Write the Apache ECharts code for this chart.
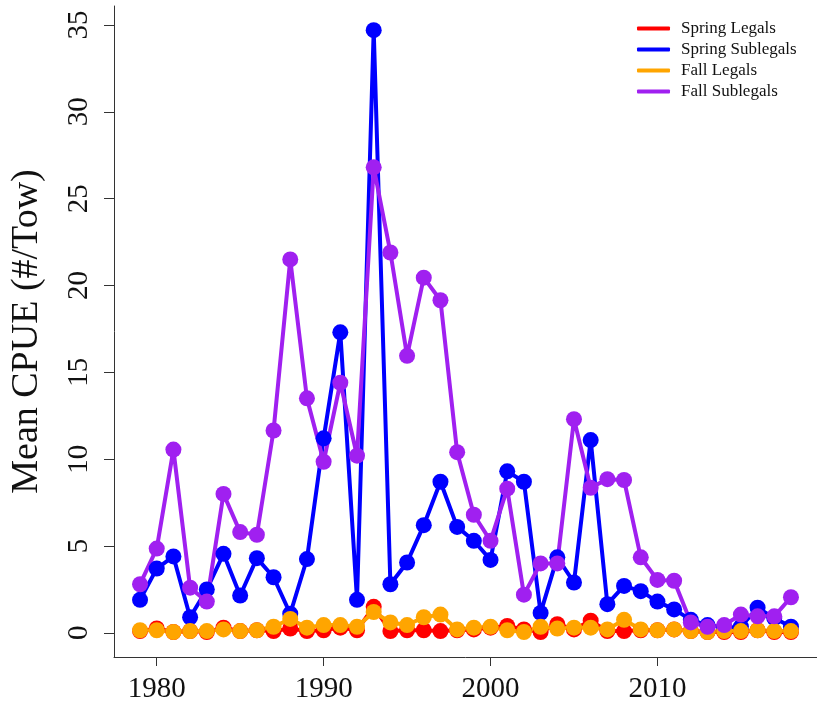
<!DOCTYPE html>
<html>
<head>
<meta charset="utf-8">
<script src="https://cdn.jsdelivr.net/npm/echarts@6/dist/echarts.min.js"></script>
<style>
  html, body { margin: 0; padding: 0; background: #ffffff; }
  #chart { width: 817px; height: 704px; }
</style>
</head>
<body>
<div id="chart"></div>
<script>
// Survey years
const years = [1979, 1980, 1981, 1982, 1983, 1984, 1985, 1986, 1987, 1988,
  1989, 1990, 1991, 1992, 1993, 1994, 1995, 1996, 1997, 1998,
  1999, 2000, 2001, 2002, 2003, 2004, 2005, 2006, 2007, 2008,
  2009, 2010, 2011, 2012, 2013, 2014, 2015, 2016, 2017, 2018];

// Mean CPUE (#/Tow) by season and size class
const springLegals = [0.1, 0.25, 0.05, 0.1, 0.05, 0.3, 0.1, 0.15, 0.1, 0.25,
  0.1, 0.15, 0.3, 0.15, 1.5, 0.1, 0.15, 0.15, 0.1, 0.15,
  0.2, 0.3, 0.4, 0.2, 0.05, 0.5, 0.2, 0.7, 0.1, 0.1,
  0.15, 0.15, 0.2, 0.1, 0.05, 0.05, 0.05, 0.15, 0.05, 0.05];

const springSublegals = [1.9, 3.7, 4.4, 0.9, 2.5, 4.55, 2.15, 4.3, 3.2, 1.1,
  4.25, 11.2, 17.3, 1.9, 34.7, 2.8, 4.05, 6.2, 8.7, 6.1,
  5.3, 4.2, 9.3, 8.7, 1.15, 4.35, 2.9, 11.1, 1.65, 2.7,
  2.4, 1.8, 1.35, 0.75, 0.45, 0.3, 0.35, 1.45, 0.85, 0.35];

const fallLegals = [0.15, 0.15, 0.05, 0.1, 0.1, 0.2, 0.1, 0.15, 0.35, 0.8,
  0.3, 0.45, 0.45, 0.35, 1.2, 0.6, 0.45, 0.9, 1.05, 0.2,
  0.3, 0.35, 0.15, 0.05, 0.35, 0.25, 0.3, 0.3, 0.2, 0.75,
  0.2, 0.15, 0.2, 0.1, 0.05, 0.1, 0.1, 0.15, 0.1, 0.1];

const fallSublegals = [2.8, 4.85, 10.55, 2.6, 1.8, 8.0, 5.8, 5.65, 11.65, 21.5,
  13.5, 9.85, 14.4, 10.2, 26.8, 21.9, 15.95, 20.45, 19.15, 10.4,
  6.8, 5.3, 8.3, 2.2, 4.0, 4.0, 12.3, 8.35, 8.85, 8.8,
  4.35, 3.05, 3.0, 0.6, 0.35, 0.45, 1.05, 0.95, 0.95, 2.05];

// Tick positions
const xTicks = [1980, 1990, 2000, 2010];
const yTicks = [0, 5, 10, 15, 20, 25, 30, 35];

const seriesNames = ['Spring Legals', 'Spring Sublegals', 'Fall Legals', 'Fall Sublegals'];
const seriesValues = [springLegals, springSublegals, fallLegals, fallSublegals];
const seriesColors = ['#ff0000', '#0000ff', '#ffa500', '#a020f0'];

const serif = "'Liberation Serif', 'Times New Roman', serif";

const chart = echarts.init(document.getElementById('chart'), null, { renderer: 'canvas' });

chart.setOption({
  animation: false,
  backgroundColor: '#ffffff',
  grid: { left: 107, right: -2, top: 6, bottom: 47, containLabel: false },
  legend: {
    orient: 'vertical',
    left: 632,
    top: 15,
    icon: 'roundRect',
    itemWidth: 33,
    itemHeight: 4,
    itemGap: 4,
    data: seriesNames,
    textStyle: {
      fontFamily: serif,
      fontSize: 17,
      lineHeight: 17,
      color: '#111111',
      padding: [0, 0, 0, 6]
    }
  },
  xAxis: {
    type: 'value',
    min: 1977.44,
    max: 2019.56,
    axisLine: { show: true, onZero: false, lineStyle: { color: '#333333', width: 1 } },
    axisTick: { show: true, customValues: xTicks, length: 9, lineStyle: { color: '#333333' } },
    axisLabel: {
      customValues: xTicks,
      formatter: (v) => String(v),
      margin: 18,
      fontFamily: serif,
      fontSize: 29,
      color: '#111111'
    },
    splitLine: { show: false }
  },
  yAxis: {
    type: 'value',
    min: -1.39,
    max: 36.09,
    name: 'Mean CPUE (#/Tow)',
    nameLocation: 'middle',
    nameRotate: 90,
    nameGap: 68,
    nameTextStyle: { fontFamily: serif, fontSize: 38, color: '#111111' },
    axisLine: { show: true, onZero: false, lineStyle: { color: '#333333', width: 1 } },
    axisTick: { show: true, customValues: yTicks, length: 10, lineStyle: { color: '#333333' } },
    axisLabel: {
      customValues: yTicks,
      formatter: (v) => String(v),
      rotate: 90,
      margin: 20,
      fontFamily: serif,
      fontSize: 29,
      color: '#111111'
    },
    splitLine: { show: false }
  },
  series: seriesNames.map((name, i) => ({
    name: name,
    type: 'line',
    data: years.map((yr, j) => [yr, seriesValues[i][j]]),
    symbol: 'circle',
    symbolSize: 16,
    showSymbol: true,
    color: seriesColors[i],
    lineStyle: { width: 4, color: seriesColors[i] },
    itemStyle: { color: seriesColors[i] },
    emphasis: { disabled: true }
  }))
});
</script>
</body>
</html>
